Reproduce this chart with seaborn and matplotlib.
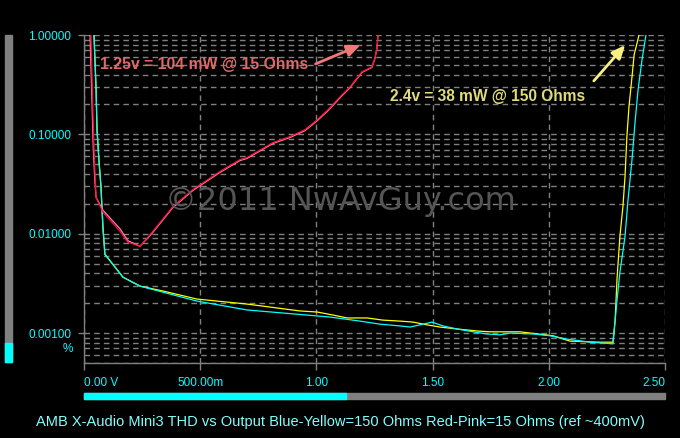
import matplotlib
matplotlib.use("Agg")
import matplotlib.pyplot as plt
from matplotlib.ticker import LogLocator, NullFormatter
from matplotlib.patches import Rectangle
import seaborn as sns
import pandas as pd

# THD (%) vs output voltage (V)
blue150_v = [0.043, 0.052, 0.056, 0.065, 0.073, 0.077, 0.082, 0.090, 0.168, 0.241, 0.340, 0.486, 0.701,
             1.059, 1.188, 1.274, 1.360, 1.403, 1.459, 1.497, 1.545, 1.605, 1.674, 1.734, 1.790, 1.833,
             1.932, 2.005, 2.078, 2.177, 2.276, 2.281, 2.294, 2.306, 2.328, 2.341, 2.358, 2.371, 2.384,
             2.401, 2.418]
blue150_thd = [1.0, 0.281, 0.1115, 0.052, 0.0299, 0.0188, 0.01107, 0.00621, 0.00365, 0.00297, 0.00258,
               0.0021, 0.00171, 0.00145, 0.00132, 0.00123, 0.00118, 0.00115, 0.00123, 0.00129, 0.00118,
               0.0011, 0.00103, 0.00098, 0.00096, 0.001, 0.00098, 0.00094, 0.00087, 0.00081, 0.00078,
               0.00103, 0.0022, 0.0041, 0.00942, 0.0221, 0.0557, 0.131, 0.281, 0.561, 1.0]

yellow150_v = [0.043, 0.052, 0.056, 0.065, 0.073, 0.077, 0.082, 0.090, 0.168, 0.241, 0.340, 0.486, 0.701,
               0.929, 1.003, 1.071, 1.132, 1.218, 1.287, 1.360, 1.416, 1.476, 1.532, 1.605, 1.691, 1.747,
               1.876, 2.018, 2.091, 2.220, 2.276, 2.285, 2.294, 2.306, 2.319, 2.328, 2.336, 2.345, 2.358,
               2.367, 2.380, 2.388]
yellow150_thd = [1.0, 0.281, 0.1115, 0.052, 0.0299, 0.0188, 0.01107, 0.00621, 0.00365, 0.00297, 0.00265,
                 0.0022, 0.00196, 0.00167, 0.00163, 0.00152, 0.00142, 0.00142, 0.00135, 0.00132, 0.00129,
                 0.00121, 0.00115, 0.0011, 0.00105, 0.00103, 0.00103, 0.00094, 0.00083, 0.00081, 0.00081,
                 0.00132, 0.00365, 0.00942, 0.0188, 0.0376, 0.0948, 0.1897, 0.379, 0.630, 0.832, 1.0]

red15_v = [0.030, 0.037, 0.043, 0.049, 0.052, 0.082, 0.155, 0.189, 0.241, 0.293, 0.383, 0.469, 0.585,
           0.671, 0.701, 0.813, 0.886, 0.951, 1.003, 1.050, 1.102, 1.145, 1.196, 1.239, 1.252, 1.261, 1.265]
red15_thd = [1.0, 0.223, 0.0703, 0.0328, 0.0232, 0.0164, 0.01057, 0.0082, 0.00748, 0.01033, 0.01883,
             0.0279, 0.0423, 0.0557, 0.0584, 0.0826, 0.0948, 0.1115, 0.140, 0.177, 0.239, 0.301, 0.426,
             0.478, 0.588, 0.758, 1.0]

pink15_v = [0.026, 0.034, 0.040, 0.047, 0.052, 0.082, 0.155, 0.189, 0.241, 0.293, 0.383, 0.469, 0.585,
            0.671, 0.701, 0.813, 0.886, 0.951, 1.003, 1.050, 1.102, 1.145, 1.196, 1.239, 1.252, 1.261, 1.265]
pink15_thd = [1.0, 0.223, 0.0703, 0.0328, 0.0232, 0.0172, 0.0112, 0.0085, 0.00748, 0.0101, 0.0184,
              0.0273, 0.0414, 0.0545, 0.0572, 0.0810, 0.0930, 0.109, 0.137, 0.173, 0.234, 0.296, 0.420,
              0.472, 0.580, 0.750, 1.0]

x_ticks = [0.0, 0.5, 1.0, 1.5, 2.0, 2.5]
x_labels = ["0.00 V", "500.00m", "1.00", "1.50", "2.00", "2.50"]
y_ticks = [1.0, 0.1, 0.01, 0.001]
y_labels = ["1.00000", "0.10000", "0.01000", "0.00100"]

title = "AMB X-Audio Mini3 THD vs Output Blue-Yellow=150 Ohms Red-Pink=15 Ohms (ref ~400mV)"

sns.set_style("dark", {"axes.facecolor": "black", "figure.facecolor": "black"})
plt.rcParams['font.family'] = ['Liberation Sans', 'DejaVu Sans']

W, H = 680, 438
fig = plt.figure(figsize=(6.8, 4.38), dpi=100)
fig.patch.set_facecolor("black")
ax = fig.add_axes([84 / W, 1 - 363 / H, (665 - 84) / W, (363 - 35) / H])
ax.set_facecolor("black")

series = [
    (yellow150_v, yellow150_thd, "#ffff00"),
    (blue150_v, blue150_thd, "#00ffff"),
    (pink15_v, pink15_thd, "#ff80c0"),
    (red15_v, red15_thd, "#ff1030"),
]
for xs, ys, c in series:
    df = pd.DataFrame({"v": xs, "thd": ys})
    sns.lineplot(data=df, x="v", y="thd", ax=ax, color=c, lw=0.9,
                 estimator=None, sort=False, zorder=4)

ax.set_yscale("log")
ax.set_xlim(0, 2.5)
ax.set_ylim(0.0005, 1.0)
ax.set_xlabel("")
ax.set_ylabel("")

ax.set_yticks(y_ticks)
ax.set_yticklabels(y_labels)
ax.yaxis.set_minor_locator(LogLocator(base=10, subs=range(2, 10)))
ax.yaxis.set_minor_formatter(NullFormatter())
ax.set_xticks(x_ticks)
ax.set_xticklabels(x_labels)
xl = ax.get_xticklabels()
xl[0].set_ha("left")
xl[-1].set_ha("right")

grid_kw = dict(color="#808080", ls=(0, (4, 3)), lw=1)
ax.grid(True, which="both", axis="y", **grid_kw)
ax.grid(True, which="major", axis="x", **grid_kw)
ax.set_axisbelow(True)

ax.tick_params(axis="y", which="major", colors="#808080", labelcolor="#00ffff",
               length=4, width=1, pad=5, labelsize=8.5, left=True)
ax.tick_params(axis="y", which="minor", length=0)
ax.tick_params(axis="x", colors="#808080", labelcolor="#00ffff",
               length=5, width=1, pad=5, labelsize=8.5, bottom=True)

for s in ["top", "right"]:
    ax.spines[s].set_visible(False)
for s in ["left", "bottom"]:
    ax.spines[s].set_color("#808080")
    ax.spines[s].set_linewidth(1)

# watermark
fig.text(340 / W, 1 - 202 / H, "\u00a92011 NwAvGuy.com", color="#555555",
         fontsize=23, ha="center", va="center", family=["DejaVu Sans"], zorder=2)

# annotations
fig.text(100 / W, 1 - 65 / H, "1.25v = 104 mW @ 15 Ohms", color="#e06868",
         fontsize=11.3, fontweight="bold", ha="left", va="center")
ax.annotate("", xy=(363, H - 44), xytext=(313, H - 65),
            xycoords="figure pixels", textcoords="figure pixels",
            arrowprops=dict(arrowstyle="-|>,head_length=0.8,head_width=0.35",
                            color="#f07878", lw=2))
fig.text(390 / W, 1 - 97 / H, "2.4v = 38 mW @ 150 Ohms", color="#e0dc78",
         fontsize=11.2, fontweight="bold", ha="left", va="center")
ax.annotate("", xy=(627, H - 43), xytext=(592, H - 83),
            xycoords="figure pixels", textcoords="figure pixels",
            arrowprops=dict(arrowstyle="-|>,head_length=0.8,head_width=0.35",
                            color="#f8f080", lw=2))

fig.text(73 / W, 1 - 349 / H, "%", color="#00ffff", fontsize=8.5, ha="right", va="center")

# side level bar and bottom sweep bar
fig.patches.append(Rectangle((5 / W, 1 - 362 / H), 7 / W, (362 - 35) / H,
                             transform=fig.transFigure, color="#808080"))
fig.patches.append(Rectangle((5 / W, 1 - 362 / H), 7 / W, (362 - 343) / H,
                             transform=fig.transFigure, color="#00ffff"))
fig.patches.append(Rectangle((84 / W, 1 - 399 / H), (665 - 84) / W, 6 / H,
                             transform=fig.transFigure, color="#808080"))
fig.patches.append(Rectangle((84 / W, 1 - 399 / H), (346 - 84) / W, 6 / H,
                             transform=fig.transFigure, color="#00ffff"))

fig.text(340 / W, 1 - 422 / H, title, color="#80ffff", fontsize=10.5, ha="center", va="center")

fig.savefig("out.png", dpi=100, facecolor="black")
